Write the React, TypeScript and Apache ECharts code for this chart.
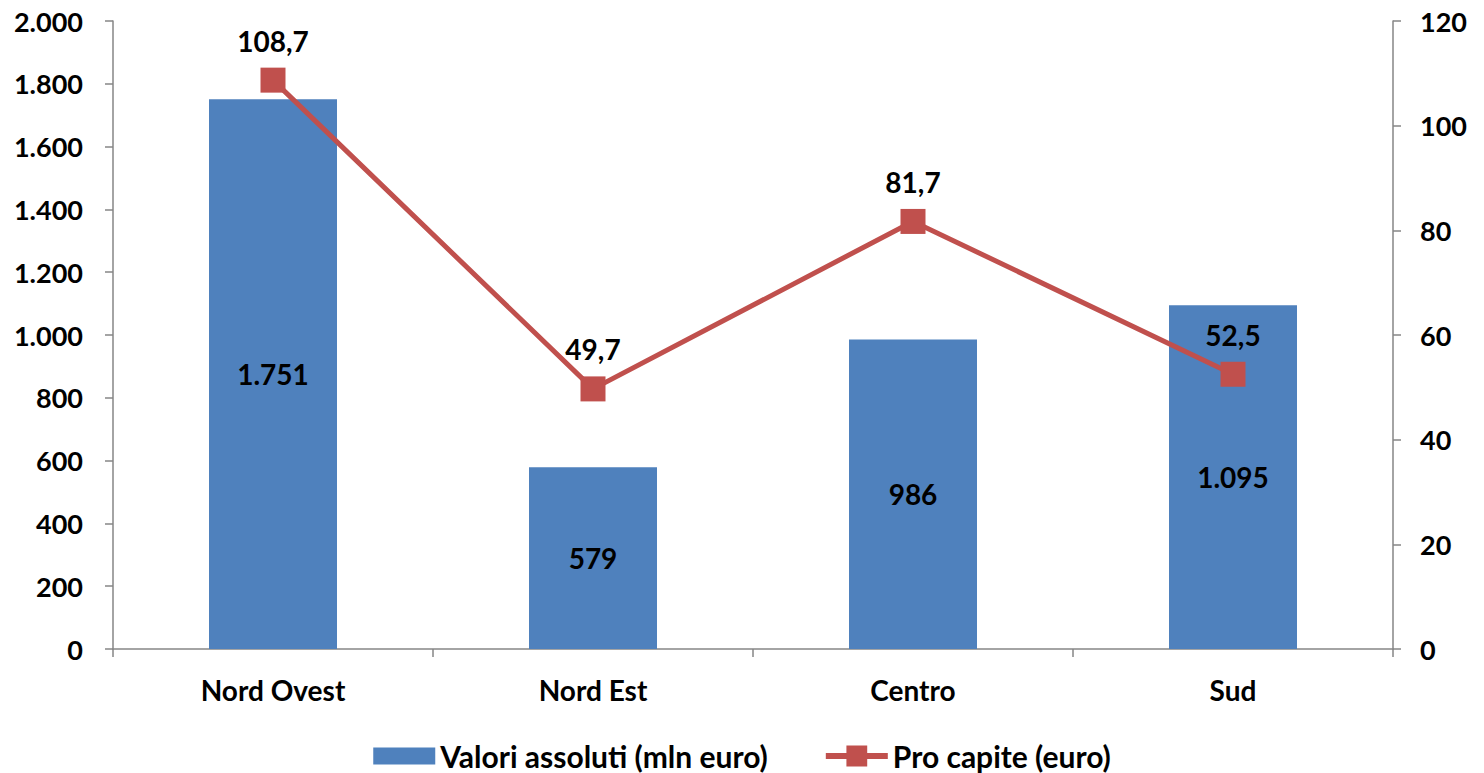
import React, { useEffect, useRef } from "react";
import * as echarts from "echarts";

const categories = ["Nord Ovest", "Nord Est", "Centro", "Sud"];
const valoriAssoluti = [1751, 579, 986, 1095];
const proCapite = [108.7, 49.7, 81.7, 52.5];
const seriesNames = ["Valori assoluti (mln euro)", "Pro capite (euro)"];

const FONT = "Lato";
const FS = 27;

function fmtThousands(v: number): string {
  return Math.round(v).toString().replace(/\B(?=(\d{3})+(?!\d))/g, ".");
}

export default function App() {
  const ref = useRef<HTMLDivElement>(null);
  useEffect(() => {
    if (!ref.current) return;
    const chart = echarts.init(ref.current, undefined, { renderer: "svg" });
    const axisLine = { show: true, lineStyle: { color: "#868686", width: 1.5 } };
    const tick = { show: true, length: 8, lineStyle: { color: "#868686", width: 1.5 } };
    const txt = { fontFamily: FONT, fontSize: FS, fontWeight: "bold", color: "#000" };
    chart.setOption({
      animation: false,
      textStyle: { fontFamily: FONT },
      grid: { left: 113, right: 91, top: 21, bottom: 124, containLabel: false },
      legend: {
        bottom: -3,
        left: "center",
        itemWidth: 62,
        itemHeight: 26,
        itemGap: 55,
        symbolKeepAspect: true,
        textStyle: { ...txt, fontSize: 30 },
        data: [
          { name: seriesNames[0], icon: "path://M0,0H62V17H0Z" },
          { name: seriesNames[1], lineStyle: { width: 6, color: "#C0504D" } },
        ],
      },
      xAxis: {
        type: "category",
        data: categories,
        axisLine,
        axisTick: tick,
        axisLabel: { ...txt, fontSize: 28, margin: 27 },
      },
      yAxis: [
        {
          type: "value",
          min: 0,
          max: 2000,
          interval: 200,
          axisLine,
          axisTick: tick,
          splitLine: { show: false },
          axisLabel: { ...txt, margin: 30, formatter: (v: number) => fmtThousands(v) },
        },
        {
          type: "value",
          min: 0,
          max: 120,
          interval: 20,
          position: "right",
          axisLine,
          axisTick: tick,
          splitLine: { show: false },
          axisLabel: { ...txt, margin: 27 },
        },
      ],
      series: [
        {
          name: seriesNames[0],
          type: "bar",
          data: valoriAssoluti,
          barWidth: "40%",
          itemStyle: { color: "#4F81BD" },
          label: {
            show: true,
            position: "inside",
            ...txt,
            fontSize: 28,
            formatter: (p: any) => fmtThousands(p.value),
          },
        },
        {
          name: seriesNames[1],
          type: "line",
          yAxisIndex: 1,
          data: proCapite,
          symbol: "rect",
          symbolSize: 25,
          lineStyle: { color: "#C0504D", width: 5 },
          itemStyle: { color: "#C0504D" },
          label: {
            show: true,
            position: "top",
            distance: 13,
            ...txt,
            fontSize: 28,
            formatter: (p: any) => String(p.value).replace(".", ","),
          },
        },
      ],
    });
    return () => chart.dispose();
  }, []);
  return (
    <div
      ref={ref}
      style={{ position: "absolute", left: 0, top: 0, width: 1484, height: 773, background: "#fff" }}
    />
  );
}
